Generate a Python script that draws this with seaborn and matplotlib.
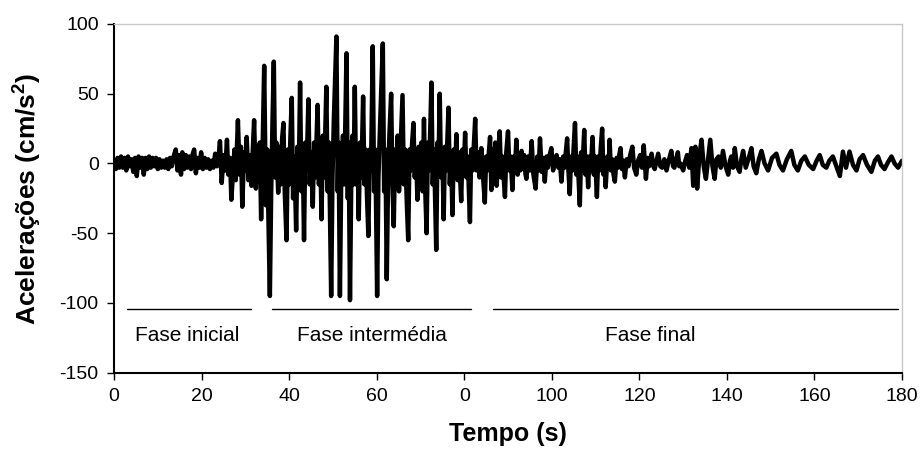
import matplotlib
matplotlib.use("Agg")
import matplotlib.pyplot as plt
import seaborn as sns
import pandas as pd

# ---- data: (tempo s, aceleração cm/s2) ----
sinal_inicial = [
    (0, 2), (0.4, -4), (0.8, 4), (1.2, -3), (1.6, 5), (2.0, -3), (2.4, 4), (2.8, -5),
    (3.2, 5), (3.6, -2), (4.0, 3), (4.4, -6), (4.8, 4), (5.2, -9), (5.6, 5), (6.0, -3),
    (6.4, 4), (6.8, -8), (7.2, 4), (7.6, -4), (8.0, 5), (8.4, -3), (8.8, 4), (9.2, -2),
    (9.6, 4), (10.0, -4), (10.4, 3), (10.8, -3), (11.2, 2), (11.6, -3), (12.0, 3),
    (12.4, -4), (12.8, 4), (13.2, -2), (13.6, 5), (14.1, 10), (14.5, -5), (14.9, 6),
    (15.3, -8), (15.6, 8), (16.0, -4), (16.4, 6), (16.8, -3), (17.2, 5), (17.6, -4),
    (18.0, 7), (18.3, 10), (18.7, -7), (19.1, 4), (19.5, -3), (19.9, 8), (20.3, -4),
    (20.7, 4), (21.1, -3), (21.5, 3), (21.9, -4), (22.3, 2), (22.7, -3), (23.1, 7),
    (23.5, -2), (23.9, 5), (24.2, 16), (24.6, -14), (25.0, 6), (25.4, -5), (25.8, 17),
    (26.1, -8), (26.5, 4), (26.8, -26),
]
sinal_intermedio = [
    (27.5, 10), (27.8, -12), (28.3, 31), (28.7, -8), (29.0, 12), (29.3, -31), (29.7, 8),
    (30.0, -5), (30.3, 19), (30.7, -12), (31.0, 6), (31.4, -16), (31.7, 10), (32.0, 31),
    (32.4, -18), (32.7, 12), (33.0, -8), (33.3, 15), (33.6, -40), (34.0, 20), (34.3, 70),
    (34.7, -30), (35.0, 10), (35.3, -45), (35.6, -95), (35.9, -20), (36.2, 30), (36.5, 73),
    (36.8, -10), (37.1, 15), (37.5, -21), (37.8, 12), (38.1, -15), (38.4, 18), (38.7, 29),
    (39.0, -20), (39.4, -55), (39.7, 10), (40.0, -15), (40.3, 20), (40.6, 47), (40.9, -25),
    (41.2, 5), (41.6, -48), (41.9, 12), (42.2, -10), (42.5, 58), (42.8, -20), (43.1, 10),
    (43.4, -55), (43.7, 15), (44.0, -5), (44.4, 46), (44.7, -15), (45.0, 8), (45.4, -31),
    (45.7, 15), (46.0, -10), (46.5, 42), (46.8, -15), (47.1, 10), (47.4, -40), (47.7, 20),
    (48.0, -10), (48.5, 55), (48.8, -20), (49.1, 15), (49.6, -95), (49.9, -10), (50.2, 30),
    (50.8, 91), (51.1, -20), (51.3, 15), (51.6, -95), (51.9, -10), (52.3, 20), (52.6, -15),
    (53.1, 79), (53.4, -25), (53.6, 15), (53.9, -98), (54.2, -10), (54.5, 20), (54.7, -15),
    (55.0, 55), (55.3, -15), (55.6, 10), (55.9, -40), (56.2, 15), (56.5, -10), (56.9, 48),
    (57.2, -15), (57.5, 10), (57.8, -25), (58.1, -52), (58.4, 10), (58.7, -5), (59.1, 84),
    (59.4, -20), (59.7, 10), (60.1, -95), (60.4, -10), (60.8, 30), (61.4, 86), (61.7, -20),
    (62.0, 10), (62.3, -83), (62.6, -10), (62.9, 20), (63.3, 50), (63.6, -15), (63.9, -45),
    (64.2, 10), (64.5, -10), (64.8, 20), (65.1, -20), (65.5, 15), (65.9, 49), (66.2, -15),
    (66.5, 10), (66.9, -30), (67.2, -55), (67.5, 10), (67.8, -5), (68.1, 15), (68.4, 29),
    (68.7, -10), (69.0, 8), (69.3, -26), (69.6, 12), (69.9, -5), (70.2, 15), (70.5, -20),
    (70.8, 32), (71.1, -20), (71.4, -50), (71.7, 15), (72.0, -5), (72.5, 58), (72.8, -15),
    (73.1, 10), (73.6, -62), (73.9, 15), (74.1, -5), (74.4, 50), (74.7, -10), (75.0, 8),
    (75.3, -40), (75.6, 12), (75.9, -5), (76.4, 40), (76.7, -15), (77.0, 5), (77.3, -37),
    (77.6, 10), (77.9, -8), (78.2, 21), (78.5, -12), (78.8, 8), (79.3, -27), (79.6, 10),
    (79.9, -5), (80.2, 22), (80.5, -10), (80.8, 5), (81.3, -42), (81.6, 10), (81.9, -5),
    (82.5, 32), (82.8, -5), (83.1, 8), (83.5, -10), (83.9, 11), (84.2, -5), (84.7, -28),
    (85.0, 5), (85.3, -5), (85.9, 19),
]
sinal_final = [
    (86.2, -19), (86.5, 10), (86.8, -8), (87.1, 15), (87.4, -16), (87.8, 10), (88.1, 23),
    (88.4, -10), (88.7, 5), (89.0, -10), (89.3, -24), (89.6, 8), (90.0, 23), (90.3, -5),
    (90.6, 5), (91.0, -19), (91.3, 5), (91.6, -5), (91.9, 17), (92.2, -8), (92.5, 2),
    (92.8, -5), (93.1, 9), (93.4, -4), (93.7, 6), (94.0, -8), (94.2, -11), (94.6, 5),
    (95.0, -5), (95.4, 16), (95.8, -8), (96.3, -18), (96.7, 5), (97.0, -5), (97.3, 18),
    (97.7, -6), (98.0, 4), (98.4, -13), (98.8, 5), (99.1, -3), (99.5, 6), (99.9, 11),
    (100.3, -5), (100.7, 3), (101.1, 6), (101.5, -3), (101.8, 3), (102.2, -13), (102.6, 5),
    (102.9, -3), (103.2, 8), (103.5, 18), (103.8, -5), (104.1, -22), (104.4, 5), (104.7, -5),
    (105.0, 12), (105.3, 29), (105.6, -8), (105.9, 5), (106.1, -10), (106.4, -30),
    (106.7, 8), (107.0, -5), (107.4, 24), (107.7, -8), (108.0, 5), (108.3, -17), (108.6, 5),
    (108.9, -5), (109.3, 19), (109.6, -8), (109.9, 5), (110.3, -24), (110.6, 5), (110.9, -5),
    (111.2, 12), (111.5, 25), (111.8, -8), (112.1, 3), (112.3, -17), (112.7, 5), (113.0, -3),
    (113.2, 17), (113.5, -5), (113.8, 3), (114.1, -8), (114.4, -13), (114.8, 4), (115.1, -3),
    (115.4, 6), (115.7, 11), (116.0, -4), (116.3, 2), (116.7, -10), (117.1, 3), (117.5, -2),
    (117.9, 6), (118.4, 12), (118.8, -3), (119.3, -8), (119.7, 2), (120.2, 6), (120.6, -3),
    (121.0, 13), (121.5, -11), (121.9, 4), (122.2, -2), (122.8, 7), (123.2, -2), (123.5, -4),
    (124.0, 3), (124.3, 7), (124.8, -2), (125.2, -3), (125.7, 3), (126.2, -5), (126.7, 2),
    (127.3, 9), (127.7, -2), (128.0, -3), (128.4, 3), (128.8, 8), (129.1, -2), (129.4, 0),
    (130.0, -5), (130.5, 2), (130.9, 6), (131.4, -3), (131.9, 11), (132.3, -16), (132.8, 12),
    (133.2, -18), (133.7, 5), (134.2, 17), (134.7, -2), (135.2, -11), (135.7, 3), (136.2, 17),
    (136.7, -2), (137.2, -11), (137.6, 3), (138.1, 5), (138.6, -3), (139.1, 9), (139.7, -2),
    (140.3, -8), (140.7, 2), (141.0, 5), (141.4, -3), (141.8, 11), (142.3, -2), (142.9, -6),
    (143.3, 3), (143.7, 9), (144.3, -3), (145.0, 4), (145.6, 11), (146.1, -2), (146.7, -7),
    (147.3, 3), (147.9, 9), (148.6, 0), (149.4, -5), (150.3, 4), (151.3, 7), (152.0, -1),
    (152.8, -5), (153.7, 3), (154.7, 9), (155.4, -1), (156.2, -5), (157.0, 2), (157.8, 5),
    (158.7, -1), (159.7, -4), (160.5, 2), (161.2, 6), (161.9, -1), (162.7, -3), (163.4, 2),
    (164.2, 5), (165.0, -2), (165.8, -9), (166.5, 8.5), (167.2, -3), (168.0, 8.5),
    (168.8, -1), (169.6, -5), (170.3, 3), (171.1, 6), (172.0, -1), (173.0, -6), (173.8, 2),
    (174.5, 5), (175.2, -1), (176.0, -4), (176.8, 1), (177.6, 5), (178.3, 0), (179.1, -3),
    (180.0, 2),
]

fase_nomes = ["Fase inicial", "Fase intermédia", "Fase final"]
fase_inicio = [3.0, 36.0, 86.5]
fase_fim = [31.2, 81.5, 179.0]
fase_centro = [16.7, 59.0, 122.4]
fase_linha_y = -104
fase_texto_y = -123

x_ticks = [0, 20, 40, 60, 80, 100, 120, 140, 160, 180]
x_tick_labels = ["0", "20", "40", "60", "0", "100", "120", "140", "160", "180"]
y_ticks = [-150, -100, -50, 0, 50, 100]

# ---- figure ----
sns.set_style("white")
plt.rcParams["font.family"] = ["Liberation Sans", "DejaVu Sans"]
plt.rcParams["axes.unicode_minus"] = False
plt.rcParams["mathtext.fontset"] = "custom"
plt.rcParams["mathtext.rm"] = "Liberation Sans"
plt.rcParams["mathtext.bf"] = "Liberation Sans:bold"
for key in ["text.color", "axes.labelcolor", "xtick.color", "ytick.color"]:
    plt.rcParams[key] = "black"

fig = plt.figure(figsize=(9.21, 4.61), dpi=100)
ax = fig.add_axes([0.1238, 0.1915, 0.9794 - 0.1238, 0.948 - 0.1915])

pontos = sinal_inicial + sinal_intermedio + sinal_final
df = pd.DataFrame(pontos, columns=["Tempo", "Aceleracao"])
sns.lineplot(data=df, x="Tempo", y="Aceleracao", ax=ax, color="black",
             linewidth=3.2, sort=False, estimator=None,
             solid_joinstyle="round", solid_capstyle="round")

for x0, x1 in zip(fase_inicio, fase_fim):
    ax.plot([x0, x1], [fase_linha_y, fase_linha_y], color="black", linewidth=1.0)
for nome, xc in zip(fase_nomes, fase_centro):
    ax.text(xc, fase_texto_y, nome, ha="center", va="center", fontsize=15)

ax.set_xlim(0, 180)
ax.set_ylim(-150, 100)
ax.set_xticks(x_ticks)
ax.set_xticklabels(x_tick_labels)
ax.set_yticks(y_ticks)
ax.tick_params(axis="both", which="major", labelsize=14, direction="out",
               length=5, width=1, color="black", left=True, bottom=True, pad=6)

ax.set_xlabel("Tempo (s)", fontsize=18, fontweight="bold", labelpad=12)
ax.set_ylabel(r"Acelerações (cm/s$^{\mathbf{2}}$)", fontsize=19,
              fontweight="bold", labelpad=12)

for side in ["left", "bottom"]:
    ax.spines[side].set_color("black")
    ax.spines[side].set_linewidth(1.5)
for side in ["top", "right"]:
    ax.spines[side].set_color("#c8c8c8")
    ax.spines[side].set_linewidth(1.0)

fig.savefig("out.png", dpi=100)
